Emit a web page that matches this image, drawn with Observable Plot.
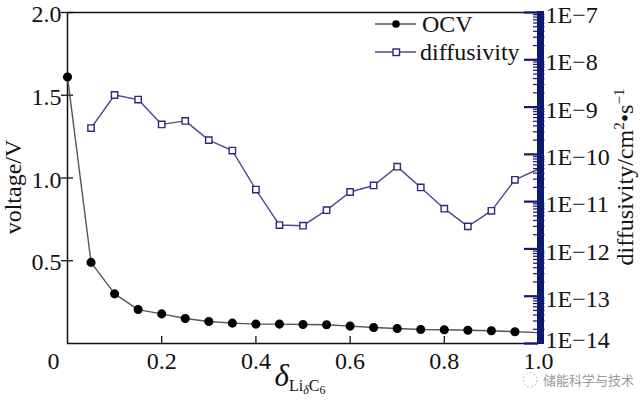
<!DOCTYPE html>
<html>
<head>
<meta charset="utf-8">
<script src="https://cdn.jsdelivr.net/npm/d3@7"></script>
<script src="https://cdn.jsdelivr.net/npm/@observablehq/plot@0.6"></script>
<style>
  html, body { margin: 0; padding: 0; background: #fff; }
</style>
</head>
<body>
<div id="chart"></div>
<script>
// ---- data ----
const ocvX = [0, 0.05, 0.10, 0.15, 0.20, 0.25, 0.30, 0.35, 0.40, 0.45, 0.50, 0.55, 0.60, 0.65, 0.70, 0.75, 0.80, 0.85, 0.90, 0.95, 1.00];
const ocvV = [1.61, 0.49, 0.30, 0.205, 0.179, 0.151, 0.133, 0.123, 0.117, 0.117, 0.115, 0.113, 0.105, 0.097, 0.091, 0.085, 0.083, 0.080, 0.077, 0.071, 0.066];
const diffX = [0.05, 0.10, 0.15, 0.20, 0.25, 0.30, 0.35, 0.40, 0.45, 0.50, 0.55, 0.60, 0.65, 0.70, 0.75, 0.80, 0.85, 0.90, 0.95, 1.00];
const diffD = [3.6e-10, 1.8e-9, 1.44e-9, 4.3e-10, 5.1e-10, 2.0e-10, 1.2e-10, 1.8e-11, 3.2e-12, 3.1e-12, 6.6e-12, 1.6e-11, 2.2e-11, 5.5e-11, 2.0e-11, 7.1e-12, 3.0e-12, 6.4e-12, 2.9e-11, 4.9e-11];
const xTicks = [0.2, 0.4, 0.6, 0.8, 1.0];
const xTickLabels = ["0.2", "0.4", "0.6", "0.8", "1.0"];
const yTicks = [0.5, 1.0, 1.5, 2.0];
const yTickLabels = ["0.5", "1.0", "1.5", "2.0"];
const decades = [-7, -8, -9, -10, -11, -12, -13, -14];
const decadeLabels = ["1E\u22127", "1E\u22128", "1E\u22129", "1E\u221210", "1E\u221211", "1E\u221212", "1E\u221213", "1E\u221214"];

// ---- mapping of log diffusivity onto the voltage scale ----
const logMin = -14, logMax = -7, vMax = 2;
const toV = (logD) => (logD - logMin) / (logMax - logMin) * vMax;

const ocvData = ocvX.map((x, i) => ({x, v: ocvV[i]}));
const diffData = diffX.map((x, i) => ({x, v: toV(Math.log10(diffD[i]))}));
const majors = decades.map((e, i) => ({v: toV(e), label: decadeLabels[i]}));
const minors = [];
for (let e = -14; e < -7; e++) for (let m = 2; m <= 9; m++) minors.push({v: toV(e + Math.log10(m))});

const W = 640, H = 400;
const mL = 67, mR = 102, mT = 12, mB = 57;
const pxX = 1 / (W - mL - mR); // one pixel in x data units
const pxY = 2 / (H - mT - mB);
const navy = "#0f1a6e";
const serif = "Liberation Serif, Times New Roman, serif";
const FS = 24;

const plot = Plot.plot({
  width: W, height: H,
  marginLeft: mL, marginRight: mR, marginTop: mT, marginBottom: mB,
  x: {domain: [0, 1], axis: null},
  y: {domain: [0, 2], axis: null},
  style: {fontFamily: serif, fontSize: FS + "px", background: "#fff", color: "#111", overflow: "visible"},
  marks: [
    // frame (left, top, bottom)
    Plot.ruleX([0], {y1: 0, y2: 2, stroke: "#111", strokeWidth: 1.5}),
    Plot.ruleY([0], {x1: 0, x2: 1, stroke: "#111", strokeWidth: 1.5}),
    Plot.ruleY([2], {x1: 0, x2: 1, stroke: "#111", strokeWidth: 1.5}),
    // left ticks (crossing the axis)
    Plot.ruleY(yTicks, {x1: -6 * pxX, x2: 6 * pxX, stroke: "#111", strokeWidth: 1.3}),
    Plot.text(yTicks, {x: 0, y: d => d, text: (d, i) => yTickLabels[i], textAnchor: "end", dx: -6, dy: 2, fontSize: FS, fontFamily: serif}),
    // bottom ticks (inward)
    Plot.ruleX(xTicks.slice(0, 4), {y1: 0, y2: 7 * pxY, stroke: "#111", strokeWidth: 1.3}),
    Plot.text(xTicks, {x: d => d, y: 0, text: (d, i) => xTickLabels[i], dy: 18, fontSize: FS, fontFamily: serif}),
    Plot.text(["0"], {x: 0, y: 0, text: d => d, dx: -14, dy: 18, fontSize: FS, fontFamily: serif}),
    // OCV series
    Plot.line(ocvData, {x: "x", y: "v", stroke: "#555", strokeWidth: 1.4}),
    Plot.dot(ocvData.filter(d => d.x < 1), {x: "x", y: "v", r: 3.8, fill: "#000", stroke: "#000"}),
    // diffusivity series
    Plot.line(diffData, {x: "x", y: "v", stroke: "#4a4a8e", strokeWidth: 1.4}),
    Plot.dot(diffData.filter(d => d.x < 1), {x: "x", y: "v", symbol: "square", r: 3.6, fill: "#fff", stroke: "#2a2a78", strokeWidth: 1.4}),
    // right log axis: thick bar, ticks, labels
    Plot.ruleY(minors, {y: "v", x1: 1 - 5 * pxX, x2: 1 + 6.5 * pxX, stroke: navy, strokeWidth: 1.2}),
    Plot.ruleY(majors, {y: "v", x1: 1 - 14 * pxX, x2: 1, stroke: navy, strokeWidth: 2.2}),
    Plot.ruleX([1], {y1: 0 - 1 * pxY, y2: 2 + 1 * pxY, dx: 2, stroke: navy, strokeWidth: 7}),
    Plot.text(majors.slice(0, -1), {x: 1, y: "v", text: "label", textAnchor: "start", dx: 7, dy: 3, fontSize: FS, fontFamily: serif, fill: "#111"}),
    Plot.text(majors.slice(-1), {x: 1, y: "v", text: "label", textAnchor: "start", dx: 7, dy: -3, fontSize: FS, fontFamily: serif, fill: "#111"})
  ]
});

const svg = d3.select(plot);

// y-axis title (left)
svg.append("text")
  .attr("transform", "translate(21,187) rotate(-90)")
  .attr("text-anchor", "middle").attr("font-size", FS).attr("font-family", serif).attr("fill", "#111")
  .text("voltage/V");

// right axis title
const rt = svg.append("text")
  .attr("transform", "translate(633,177) rotate(-90)")
  .attr("text-anchor", "middle").attr("font-size", FS).attr("font-family", serif).attr("fill", "#111");
rt.append("tspan").text("diffusivity/cm");
rt.append("tspan").attr("font-size", 15).attr("dy", -9).text("2");
rt.append("tspan").attr("dy", 9).text("\u2022s");
rt.append("tspan").attr("font-size", 15).attr("dy", -9).text("\u22121");

// x-axis title: δ with subscript Li_δ C_6
const xt = svg.append("text")
  .attr("x", 300).attr("y", 386).attr("text-anchor", "middle")
  .attr("font-family", serif).attr("fill", "#111");
xt.append("tspan").attr("font-size", 31).attr("font-style", "italic").text("\u03b4");
xt.append("tspan").attr("font-size", 16).attr("dy", 5).text("Li");
xt.append("tspan").attr("font-size", 12).attr("font-style", "italic").attr("dy", 3).text("\u03b4");
xt.append("tspan").attr("font-size", 16).attr("dy", -3).text("C");
xt.append("tspan").attr("font-size", 12).attr("dy", 3).text("6");

// legend
const lg = svg.append("g").attr("font-family", serif).attr("font-size", FS).attr("fill", "#111").attr("text-anchor", "start");
lg.append("line").attr("x1", 375).attr("x2", 416).attr("y1", 24).attr("y2", 24).attr("stroke", "#555").attr("stroke-width", 1.6);
lg.append("circle").attr("cx", 396).attr("cy", 24).attr("r", 3.8).attr("fill", "#000");
lg.append("text").attr("x", 422).attr("y", 24).attr("dy", "0.33em").attr("text-anchor", "start").text("OCV");
lg.append("line").attr("x1", 375).attr("x2", 416).attr("y1", 52).attr("y2", 52).attr("stroke", "#4a4a8e").attr("stroke-width", 1.6);
lg.append("rect").attr("x", 393).attr("y", 49).attr("width", 6.5).attr("height", 6.5).attr("fill", "#fff").attr("stroke", "#2a2a78").attr("stroke-width", 1.4);
lg.append("text").attr("x", 420).attr("y", 52).attr("dy", "0.33em").attr("text-anchor", "start").text("diffusivity");

// watermark
const wm = svg.append("g").attr("fill", "#999").attr("font-family", "Noto Sans CJK SC, sans-serif").attr("text-anchor", "start");
wm.append("circle").attr("cx", 530).attr("cy", 380).attr("r", 7).attr("fill", "none").attr("stroke", "#bbb").attr("stroke-dasharray", "2,2");
wm.append("text").attr("x", 543).attr("y", 380).attr("dy", "0.35em").attr("font-size", 13).text("储能科学与技术");

document.getElementById("chart").appendChild(plot);
</script>
</body>
</html>
